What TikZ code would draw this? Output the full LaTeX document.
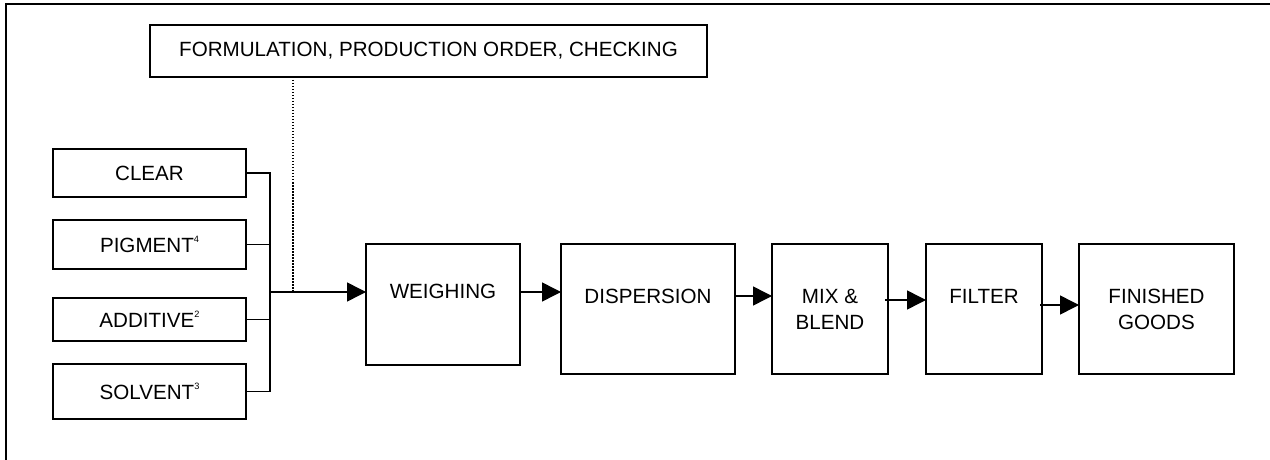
\documentclass[tikz,border=0pt]{standalone}
\usepackage{fontspec}
\setmainfont{Liberation Sans}
\usetikzlibrary{arrows.meta}
\newcommand{\supr}[1]{\raisebox{0.95ex}{\fontsize{4.6}{5}\selectfont #1}}
\begin{document}
\begin{tikzpicture}[x=0.5pt,y=-0.5pt,
  every node/.style={font=\fontsize{10.3}{13}\selectfont, inner sep=0pt, outer sep=0pt},
  box/.style={draw, line width=1pt, align=center},
  conn/.style={line width=0.75pt},
  arr/.style={line width=0.75pt, -{Triangle[length=9.5pt,width=9.5pt]}}]
\useasboundingbox (0,0) rectangle (1270,460);
% frame (partially visible)
\draw[line width=1pt] (1270,4.5) -- (5.5,4.5) -- (5.5,460);
% top box
\node[box, minimum width=278.5pt, minimum height=26pt] (form) at (428.5,51) {FORMULATION, PRODUCTION ORDER, CHECKING};
% input boxes
\node[box, minimum width=96.5pt, minimum height=24pt] (clear) at (149.5,173) {CLEAR};
\node[box, minimum width=96.5pt, minimum height=24.5pt] (pig) at (149.5,244.5) {PIGMENT\supr{4}};
\node[box, minimum width=96.5pt, minimum height=21.5pt] (add) at (149.5,319.5) {ADDITIVE\supr{2}};
\node[box, minimum width=96.5pt, minimum height=27.5pt] (sol) at (149.5,391.5) {SOLVENT\supr{3}};
% process boxes
\node[box, minimum width=77pt, minimum height=60.5pt] (weigh) at (443,304.5) {WEIGHING\\\mbox{}};
\node[box, minimum width=87pt, minimum height=65pt] (disp) at (648,309) {DISPERSION\\\mbox{}};
\node[box, minimum width=58pt, minimum height=65pt] (mix) at (830,309) {MIX \&\\BLEND};
\node[box, minimum width=58pt, minimum height=65pt] (filt) at (984,309) {FILTER\\\mbox{}};
\node[box, minimum width=77.5pt, minimum height=65pt] (fin) at (1156.5,309) {FINISHED\\GOODS};
% bus
\coordinate (btop) at (270,173);
\coordinate (bbot) at (270,391.5);
\coordinate (j) at (270,292);
\coordinate (d) at (293,292);
\coordinate (y296) at (0,296);
\coordinate (y300) at (0,300);
\coordinate (y305) at (0,305);
\draw[conn] (clear.east) -- (clear.east -| btop) -- (bbot -| btop) -- (sol.east);
\draw[conn] (pig.east) -- (pig.east -| btop);
\draw[conn] (add.east) -- (add.east -| btop);
% dotted control line
\draw[line width=0.6pt, dash pattern=on 0.75pt off 0.75pt] (form.south -| d) -- (d);
% flow arrows
\draw[arr] (j) -- (j -| weigh.west);
\draw[arr] (j -| weigh.east) -- (j -| disp.west);
\draw[arr] (y296 -| disp.east) -- (y296 -| mix.west);
\draw[arr] ([xshift=-1.5pt]y300 -| mix.east) -- (y300 -| filt.west);
\draw[arr] ([xshift=-1pt]y305 -| filt.east) -- (y305 -| fin.west);
\end{tikzpicture}
\end{document}
